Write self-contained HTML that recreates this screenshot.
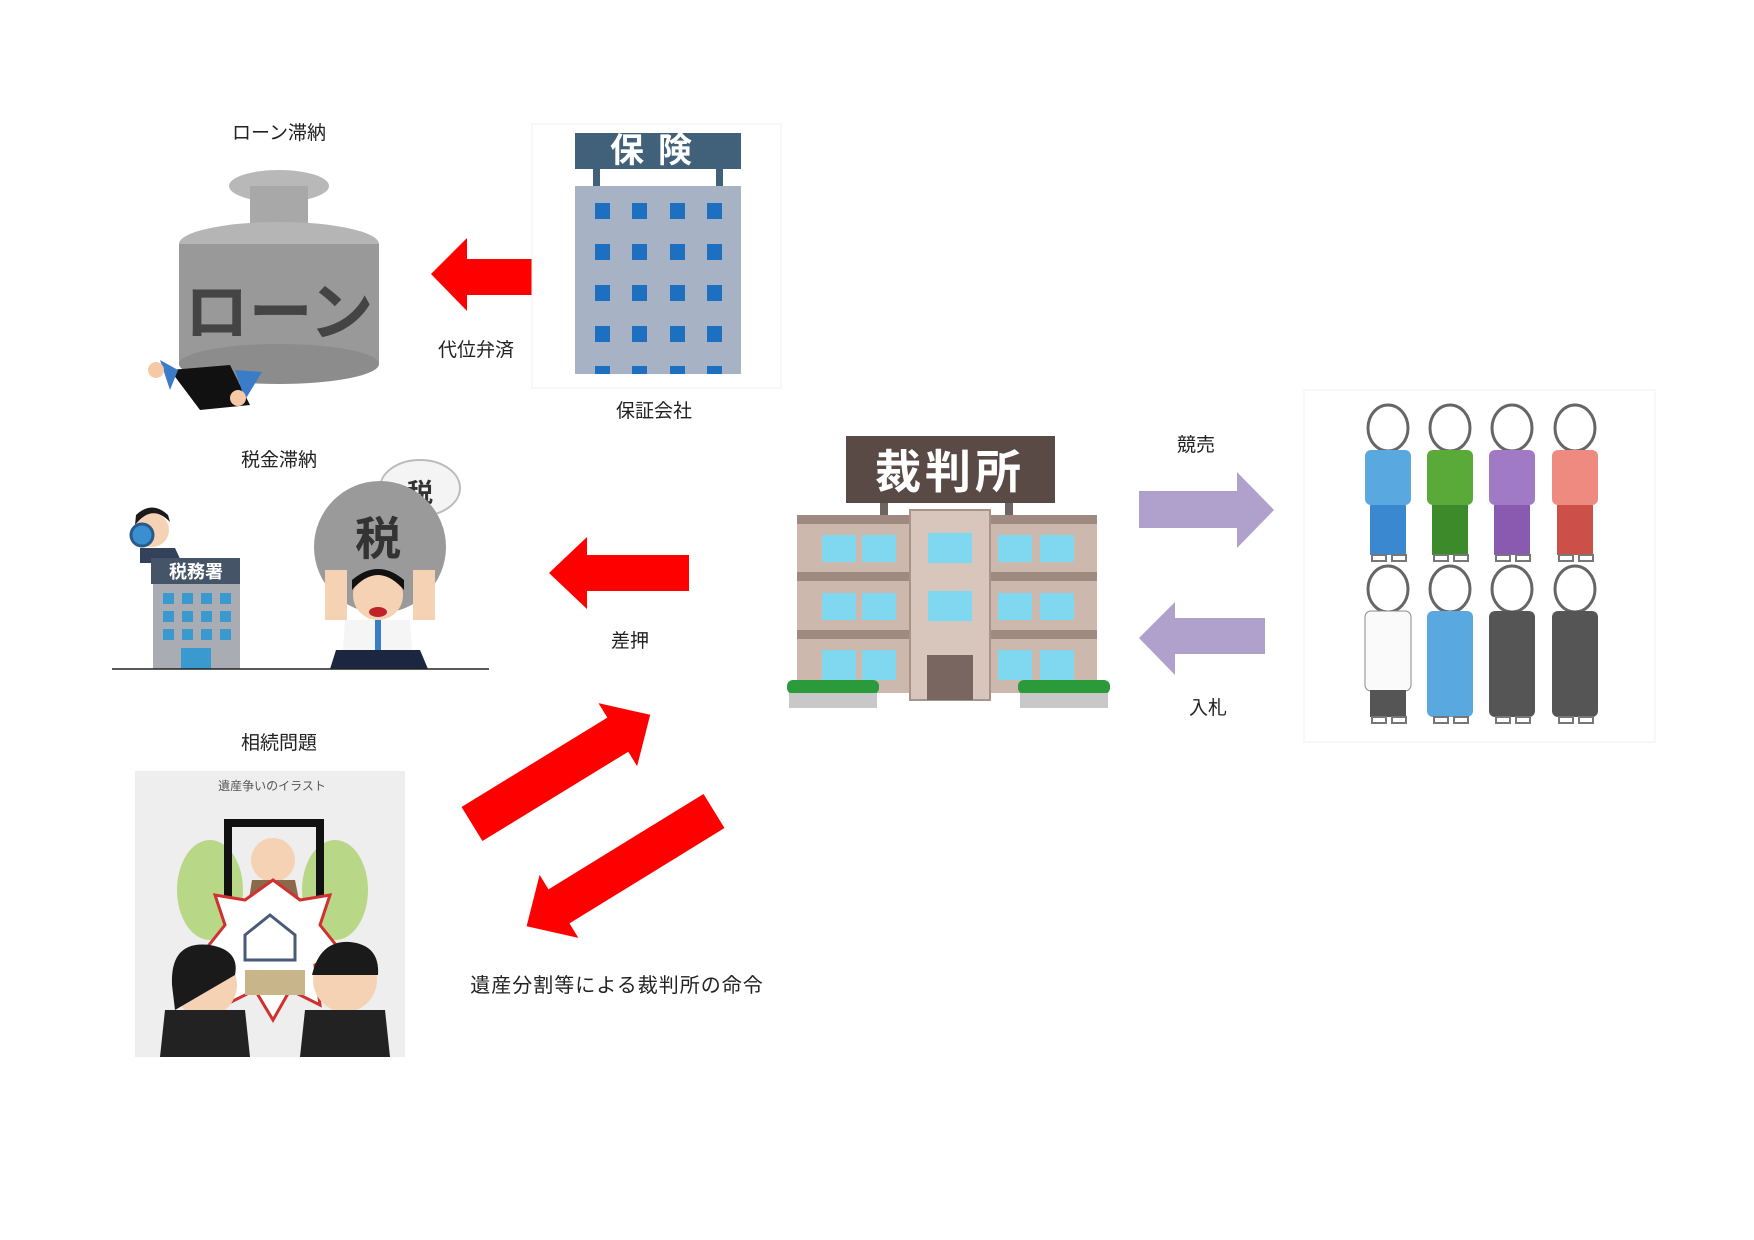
<!DOCTYPE html>
<html><head><meta charset="utf-8"><style>
html,body{margin:0;padding:0;background:#fff;}
svg{display:block}
text{font-family:"Liberation Sans","Noto Sans CJK JP",sans-serif;}
</style></head><body>
<svg width="1754" height="1240" viewBox="0 0 1754 1240" xmlns="http://www.w3.org/2000/svg">
<rect width="1754" height="1240" fill="#fff"/>

<!-- labels -->
<g font-size="19" fill="#222" text-anchor="middle">
<text x="279" y="139">ローン滞納</text>
<text x="476" y="356">代位弁済</text>
<text x="654" y="417">保証会社</text>
<text x="279" y="466">税金滞納</text>
<text x="630" y="647">差押</text>
<text x="1196" y="451">競売</text>
<text x="1208" y="714">入札</text>
<text x="279" y="749">相続問題</text>
<text x="617" y="992" font-size="20" letter-spacing="1">遺産分割等による裁判所の命令</text>
</g>

<!-- loan weight -->
<g>
<ellipse cx="279" cy="186" rx="50" ry="16" fill="#b8b8b8"/>
<rect x="250" y="186" width="58" height="50" fill="#a8a8a8"/>
<ellipse cx="279" cy="244" rx="100" ry="22" fill="#b5b5b5"/>
<rect x="179" y="244" width="200" height="120" fill="#999"/>
<ellipse cx="279" cy="364" rx="100" ry="20" fill="#8c8c8c"/>
<text x="279" y="335" font-size="64" font-weight="bold" fill="#444" text-anchor="middle">ローン</text>
<path d="M170 370 L230 365 L250 405 L200 410 Z" fill="#111"/>
<path d="M160 360 L178 370 L170 390 Z" fill="#3a7cc8"/>
<path d="M235 370 L262 372 L245 400 Z" fill="#3a7cc8"/>
<circle cx="156" cy="370" r="8" fill="#f6c8a6"/>
<circle cx="238" cy="398" r="8" fill="#f6c8a6"/>
</g>

<!-- red arrow 1 -->
<polygon points="431,274 467,238 467,259 533,259 533,295 467,295 467,311" fill="#ff0000"/>

<!-- insurance building -->
<rect x="532" y="124" width="249" height="264" fill="#fff" stroke="#f2f2f2"/>
<rect x="575" y="133" width="166" height="36" fill="#41607a"/>
<text x="658" y="162" font-size="34" font-weight="bold" fill="#fff" text-anchor="middle" letter-spacing="14">保険</text>
<rect x="593" y="169" width="7" height="18" fill="#41607a"/>
<rect x="716" y="169" width="7" height="18" fill="#41607a"/>
<rect x="575" y="186" width="166" height="188" fill="#a7b3c5"/>
<g fill="#1d6fbf">
<rect x="595" y="203" width="15" height="16"/><rect x="632" y="203" width="15" height="16"/><rect x="670" y="203" width="15" height="16"/><rect x="707" y="203" width="15" height="16"/>
<rect x="595" y="244" width="15" height="16"/><rect x="632" y="244" width="15" height="16"/><rect x="670" y="244" width="15" height="16"/><rect x="707" y="244" width="15" height="16"/>
<rect x="595" y="285" width="15" height="16"/><rect x="632" y="285" width="15" height="16"/><rect x="670" y="285" width="15" height="16"/><rect x="707" y="285" width="15" height="16"/>
<rect x="595" y="326" width="15" height="16"/><rect x="632" y="326" width="15" height="16"/><rect x="670" y="326" width="15" height="16"/><rect x="707" y="326" width="15" height="16"/>
<rect x="595" y="366" width="15" height="8"/><rect x="632" y="366" width="15" height="8"/><rect x="670" y="366" width="15" height="8"/><rect x="707" y="366" width="15" height="8"/>
</g>

<!-- tax office -->
<circle cx="152" cy="530" r="17" fill="#f6d2b5"/>
<path d="M135 525 Q152 503 170 522 L168 515 Q152 500 136 515 Z" fill="#1a1a1a"/>
<circle cx="142" cy="535" r="11" fill="#3a8fd0" stroke="#2a5a8a" stroke-width="3"/>
<path d="M140 548 L175 548 L182 563 L140 563 Z" fill="#33425a"/>
<rect x="151" y="558" width="89" height="26" fill="#465468"/>
<text x="196" y="578" font-size="18" font-weight="bold" fill="#fff" text-anchor="middle">税務署</text>
<rect x="153" y="584" width="87" height="85" fill="#a9adb3"/>
<g fill="#3a9ad0">
<rect x="163" y="593" width="11" height="11"/><rect x="182" y="593" width="11" height="11"/><rect x="201" y="593" width="11" height="11"/><rect x="220" y="593" width="11" height="11"/>
<rect x="163" y="611" width="11" height="11"/><rect x="182" y="611" width="11" height="11"/><rect x="201" y="611" width="11" height="11"/><rect x="220" y="611" width="11" height="11"/>
<rect x="163" y="629" width="11" height="11"/><rect x="182" y="629" width="11" height="11"/><rect x="201" y="629" width="11" height="11"/><rect x="220" y="629" width="11" height="11"/>
<rect x="181" y="648" width="30" height="21"/>
</g>
<!-- tax man -->
<ellipse cx="420" cy="488" rx="40" ry="28" fill="#f4f4f4" stroke="#bbb" stroke-width="2"/>
<text x="420" y="502" font-size="26" font-weight="bold" fill="#333" text-anchor="middle">税</text>
<circle cx="380" cy="547" r="66" fill="#9a9a9a"/>
<text x="378" y="555" font-size="46" font-weight="bold" fill="#333" text-anchor="middle">税</text>
<rect x="325" y="570" width="22" height="50" fill="#f6d2b5"/>
<rect x="413" y="570" width="22" height="50" fill="#f6d2b5"/>
<circle cx="378" cy="595" r="25" fill="#f6d2b5"/>
<path d="M352 590 Q378 560 404 590 L404 580 Q378 558 352 580Z" fill="#111"/>
<ellipse cx="378" cy="612" rx="9" ry="5" fill="#c0222a"/>
<path d="M345 620 L410 620 L412 650 L343 650 Z" fill="#f5f5f5"/>
<rect x="375" y="620" width="6" height="40" fill="#3a7cc8"/>
<path d="M336 650 L420 650 L428 669 L330 669 Z" fill="#1b2740"/>
<line x1="112" y1="669" x2="489" y2="669" stroke="#222" stroke-width="1.5"/>

<!-- red arrow 2 -->
<polygon points="549,573 587,537 587,555 689,555 689,591 587,591 587,609" fill="#ff0000"/>

<!-- court -->
<rect x="846" y="436" width="209" height="67" fill="#5a4a45"/>
<text x="950" y="488" font-size="46" font-weight="bold" fill="#fff" text-anchor="middle" letter-spacing="4">裁判所</text>
<rect x="880" y="503" width="8" height="12" fill="#6e6462"/>
<rect x="1005" y="503" width="8" height="12" fill="#6e6462"/>
<rect x="797" y="515" width="300" height="178" fill="#cdb8ad"/>
<rect x="797" y="515" width="300" height="9" fill="#9e8a80"/>
<rect x="797" y="572" width="300" height="9" fill="#9e8a80"/>
<rect x="797" y="630" width="300" height="9" fill="#9e8a80"/>
<rect x="910" y="510" width="80" height="190" fill="#d8c6bc" stroke="#a8948a" stroke-width="2"/>
<rect x="927" y="655" width="46" height="45" fill="#7a6660"/>
<g fill="#7fd8f0">
<rect x="822" y="535" width="34" height="27"/><rect x="862" y="535" width="34" height="27"/>
<rect x="928" y="533" width="44" height="30"/>
<rect x="998" y="535" width="34" height="27"/><rect x="1040" y="535" width="34" height="27"/>
<rect x="822" y="593" width="34" height="27"/><rect x="862" y="593" width="34" height="27"/>
<rect x="928" y="591" width="44" height="30"/>
<rect x="998" y="593" width="34" height="27"/><rect x="1040" y="593" width="34" height="27"/>
<rect x="822" y="650" width="34" height="30"/><rect x="862" y="650" width="34" height="30"/>
<rect x="998" y="650" width="34" height="30"/><rect x="1040" y="650" width="34" height="30"/>
</g>
<rect x="787" y="680" width="92" height="14" fill="#2a9a3a" rx="6"/>
<rect x="789" y="693" width="88" height="15" fill="#c8c8c8"/>
<rect x="1018" y="680" width="92" height="14" fill="#2a9a3a" rx="6"/>
<rect x="1020" y="693" width="88" height="15" fill="#c8c8c8"/>

<!-- purple arrows -->
<polygon points="1139,491 1237,491 1237,472 1274,510 1237,548 1237,528 1139,528" fill="#b0a0cc"/>
<polygon points="1139,638 1175,602 1175,618 1265,618 1265,654 1175,654 1175,675" fill="#b0a0cc"/>

<!-- people -->
<rect x="1304" y="390" width="351" height="352" fill="#fff" stroke="#f0f0f0"/>
<g stroke="#666" stroke-width="3" fill="#fff">
<ellipse cx="1388" cy="428" rx="20" ry="23"/><ellipse cx="1450" cy="428" rx="20" ry="23"/><ellipse cx="1512" cy="428" rx="20" ry="23"/><ellipse cx="1575" cy="428" rx="20" ry="23"/>
<ellipse cx="1388" cy="589" rx="20" ry="23"/><ellipse cx="1450" cy="589" rx="20" ry="23"/><ellipse cx="1512" cy="589" rx="20" ry="23"/><ellipse cx="1575" cy="589" rx="20" ry="23"/>
</g>
<g>
<rect x="1365" y="450" width="46" height="55" rx="6" fill="#5aa8e0"/><rect x="1370" y="505" width="36" height="50" fill="#3a88d0"/>
<rect x="1427" y="450" width="46" height="55" rx="6" fill="#5aaa3a"/><rect x="1432" y="505" width="36" height="50" fill="#3c8a2a"/>
<rect x="1489" y="450" width="46" height="55" rx="6" fill="#a07ac4"/><rect x="1494" y="505" width="36" height="50" fill="#8a5ab0"/>
<rect x="1552" y="450" width="46" height="55" rx="6" fill="#ee8a80"/><rect x="1557" y="505" width="36" height="50" fill="#cc5048"/>
<rect x="1365" y="611" width="46" height="80" rx="6" fill="#fafafa" stroke="#888"/><rect x="1370" y="690" width="36" height="27" fill="#555"/>
<rect x="1427" y="611" width="46" height="106" rx="6" fill="#5aa8e0"/>
<rect x="1489" y="611" width="46" height="106" rx="6" fill="#555"/>
<rect x="1552" y="611" width="46" height="106" rx="6" fill="#555"/>
</g>
<g fill="#fff" stroke="#777" stroke-width="2">
<rect x="1372" y="555" width="14" height="6"/><rect x="1392" y="555" width="14" height="6"/>
<rect x="1434" y="555" width="14" height="6"/><rect x="1454" y="555" width="14" height="6"/>
<rect x="1496" y="555" width="14" height="6"/><rect x="1516" y="555" width="14" height="6"/>
<rect x="1559" y="555" width="14" height="6"/><rect x="1579" y="555" width="14" height="6"/>
<rect x="1372" y="717" width="14" height="6"/><rect x="1392" y="717" width="14" height="6"/>
<rect x="1434" y="717" width="14" height="6"/><rect x="1454" y="717" width="14" height="6"/>
<rect x="1496" y="717" width="14" height="6"/><rect x="1516" y="717" width="14" height="6"/>
<rect x="1559" y="717" width="14" height="6"/><rect x="1579" y="717" width="14" height="6"/>
</g>

<!-- inheritance -->
<rect x="135" y="771" width="270" height="286" fill="#eeeeee"/>
<text x="272" y="790" font-size="12" fill="#555" text-anchor="middle">遺産争いのイラスト</text>
<ellipse cx="210" cy="890" rx="33" ry="50" fill="#b8d888"/>
<ellipse cx="335" cy="890" rx="33" ry="50" fill="#b8d888"/>
<path d="M228 915 L228 823 L320 823 L320 915" fill="none" stroke="#111" stroke-width="8"/>
<circle cx="273" cy="860" r="22" fill="#f6d2b5"/>
<path d="M252 880 L295 880 L300 905 L248 905 Z" fill="#8a6a4a"/>
<polygon points="273,880 300,900 330,895 320,925 340,950 315,965 320,1005 290,990 273,1020 255,990 225,1005 230,965 205,950 225,925 215,895 245,900" fill="#fff" stroke="#d03030" stroke-width="3"/>
<path d="M245 935 L270 915 L295 935 L295 960 L245 960 Z" fill="#fff" stroke="#4a5a7a" stroke-width="3"/>
<rect x="245" y="970" width="60" height="25" fill="#c9b58a"/>
<circle cx="205" cy="985" r="32" fill="#f6d2b5"/>
<path d="M172 985 Q170 940 210 945 Q240 950 235 975 L175 1010 Z" fill="#1a1a1a"/>
<path d="M165 1010 L245 1010 L250 1057 L160 1057 Z" fill="#222"/>
<circle cx="345" cy="980" r="32" fill="#f6d2b5"/>
<path d="M312 975 Q320 940 350 942 Q380 945 378 975 Z" fill="#1a1a1a"/>
<path d="M305 1010 L385 1010 L390 1057 L300 1057 Z" fill="#222"/>

<!-- diagonal red arrows -->
<g transform="translate(472,824) rotate(-31.5)">
<polygon points="0,-20 171,-20 171,-37 209,0 171,37 171,20 0,20" fill="#ff0000"/>
</g>
<g transform="translate(714,811) rotate(148.4)">
<polygon points="0,-20 182,-20 182,-37 220,0 182,37 182,20 0,20" fill="#ff0000"/>
</g>
</svg>
</body></html>
